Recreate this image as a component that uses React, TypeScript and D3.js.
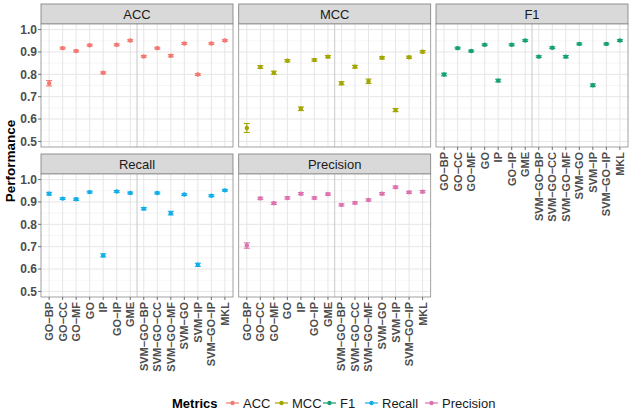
import React from "react";
import * as d3 from "d3";

const methods = ["GO-BP", "GO-CC", "GO-MF", "GO", "IP", "GO-IP", "GME", "SVM-GO-BP", "SVM-GO-CC", "SVM-GO-MF", "SVM-GO", "SVM-IP", "SVM-GO-IP", "MKL"];
const metricNames = ["ACC", "MCC", "F1", "Recall", "Precision"];
const metricColors = ["#F27A72", "#A3A500", "#17A077", "#12AEE8", "#DC72AE"];

const accVals = [0.760, 0.917, 0.904, 0.930, 0.807, 0.932, 0.951, 0.880, 0.917, 0.883, 0.938, 0.799, 0.938, 0.951];
const accErr = [0.012, 0.004, 0.004, 0.004, 0.004, 0.004, 0.004, 0.004, 0.004, 0.005, 0.004, 0.004, 0.004, 0.004];
const mccVals = [0.560, 0.833, 0.807, 0.861, 0.646, 0.864, 0.879, 0.760, 0.834, 0.769, 0.874, 0.640, 0.876, 0.901];
const mccErr = [0.020, 0.006, 0.007, 0.005, 0.008, 0.005, 0.005, 0.007, 0.006, 0.010, 0.005, 0.007, 0.005, 0.005];
const f1Vals = [0.799, 0.917, 0.904, 0.932, 0.772, 0.932, 0.951, 0.879, 0.919, 0.879, 0.936, 0.751, 0.936, 0.951];
const f1Err = [0.006, 0.004, 0.004, 0.004, 0.006, 0.004, 0.004, 0.004, 0.004, 0.005, 0.004, 0.006, 0.004, 0.004];
const recallVals = [0.937, 0.915, 0.912, 0.944, 0.661, 0.947, 0.940, 0.870, 0.940, 0.850, 0.933, 0.619, 0.928, 0.952];
const recallErr = [0.006, 0.004, 0.005, 0.004, 0.007, 0.004, 0.004, 0.005, 0.004, 0.008, 0.004, 0.007, 0.004, 0.004];
const precisionVals = [0.705, 0.916, 0.894, 0.918, 0.937, 0.918, 0.935, 0.887, 0.896, 0.909, 0.937, 0.966, 0.943, 0.946];
const precisionErr = [0.012, 0.005, 0.005, 0.005, 0.005, 0.005, 0.005, 0.005, 0.005, 0.005, 0.005, 0.005, 0.005, 0.005];

const yTicks = [0.5, 0.6, 0.7, 0.8, 0.9, 1.0];
const yMinor = [0.55, 0.65, 0.75, 0.85, 0.95];

const series = [
  { vals: accVals, err: accErr },
  { vals: mccVals, err: mccErr },
  { vals: f1Vals, err: f1Err },
  { vals: recallVals, err: recallErr },
  { vals: precisionVals, err: precisionErr },
];

const W = 633;
const H = 412;
const colX = [41, 238.7, 436];
const panelW = 192;
const rows = [
  { stripTop: 4, top: 24, bottom: 147 },
  { stripTop: 154, top: 174, bottom: 297 },
];
const font = "'Liberation Sans', Arial, Helvetica, sans-serif";
const label = (s: string) => s.replace(/-/g, "\u2212");

const Panel = ({ idx }: { idx: number }) => {
  const col = idx % 3;
  const row = Math.floor(idx / 3);
  const r = rows[row];
  const x0 = colX[col];
  const x = d3.scalePoint<string>().domain(methods).range([x0, x0 + panelW]).padding(0.6);
  const y = d3.scaleLinear().domain([0.475, 1.025]).range([r.bottom, r.top]);
  const color = metricColors[idx];
  const s = series[idx];
  const showX = idx >= 2;
  const showY = col === 0;
  const mid = (x(methods[6])! + x(methods[7])!) / 2;
  return (
    <g>
      <rect x={x0} y={r.stripTop} width={panelW} height={r.top - r.stripTop} fill="#D9D9D9" stroke="#7a7a7a" strokeWidth={0.8} />
      <text x={x0 + panelW / 2} y={(r.stripTop + r.top) / 2} dy="0.36em" textAnchor="middle" fontSize={13} fill="#1a1a1a" fontFamily={font}>
        {metricNames[idx]}
      </text>
      <rect x={x0} y={r.top} width={panelW} height={r.bottom - r.top} fill="#fff" />
      {yMinor.map((t) => (
        <line key={"mn" + t} x1={x0} x2={x0 + panelW} y1={y(t)} y2={y(t)} stroke="#F0F0F0" strokeWidth={0.6} />
      ))}
      {yTicks.map((t) => (
        <line key={"mj" + t} x1={x0} x2={x0 + panelW} y1={y(t)} y2={y(t)} stroke="#E6E6E6" strokeWidth={1} />
      ))}
      {methods.map((m) => (
        <line key={"gx" + m} x1={x(m)} x2={x(m)} y1={r.top} y2={r.bottom} stroke="#E6E6E6" strokeWidth={1} />
      ))}
      <line x1={mid} x2={mid} y1={r.top} y2={r.bottom} stroke="#C8C8C8" strokeWidth={1} />
      {methods.map((m, i) => {
        const cx = x(m)!;
        const lo = y(s.vals[i] - s.err[i]);
        const hi = y(s.vals[i] + s.err[i]);
        return (
          <g key={"pt" + m} stroke={color} fill={color}>
            <line x1={cx} x2={cx} y1={lo} y2={hi} strokeWidth={1.1} />
            <line x1={cx - 3} x2={cx + 3} y1={lo} y2={lo} strokeWidth={1.1} />
            <line x1={cx - 3} x2={cx + 3} y1={hi} y2={hi} strokeWidth={1.1} />
            <circle cx={cx} cy={y(s.vals[i])} r={2.2} stroke="none" />
          </g>
        );
      })}
      <rect x={x0} y={r.top} width={panelW} height={r.bottom - r.top} fill="none" stroke="#8a8a8a" strokeWidth={0.8} />
      {showY &&
        yTicks.map((t) => (
          <g key={"yt" + t}>
            <line x1={x0 - 3} x2={x0} y1={y(t)} y2={y(t)} stroke="#4d4d4d" strokeWidth={0.8} />
            <text x={x0 - 4} y={y(t)} dy="0.36em" textAnchor="end" fontSize={12} fontWeight="bold" fill="#4d4d4d" fontFamily={font}>
              {t.toFixed(1)}
            </text>
          </g>
        ))}
      {showX &&
        methods.map((m) => (
          <g key={"xt" + m}>
            <line x1={x(m)} x2={x(m)} y1={r.bottom} y2={r.bottom + 3} stroke="#4d4d4d" strokeWidth={0.8} />
            <text
              transform={`translate(${x(m)},${r.bottom + 5}) rotate(-90)`}
              dy="0.36em"
              textAnchor="end"
              fontSize={11}
              fontWeight="bold"
              fill="#4d4d4d"
              fontFamily={font}
            >
              {label(m)}
            </text>
          </g>
        ))}
    </g>
  );
};

// legend key start positions and text start positions
const legendKeyX = [226, 275, 323, 365, 425];
const legendTextX = [243, 292, 340, 382, 442];

const App = () => {
  const ly = 403;
  return (
    <svg width={W} height={H} style={{ position: "absolute", left: 0, top: 0, background: "#fff" }}>
      <rect width={W} height={H} fill="#fff" />
      {metricNames.map((m, i) => (
        <Panel key={m} idx={i} />
      ))}
      <text transform={`translate(10,161) rotate(-90)`} dy="0.36em" textAnchor="middle" fontSize={13.5} fontWeight="bold" fill="#000" fontFamily={font}>
        Performance
      </text>
      <text x={172} y={ly} dy="0.36em" fontSize={13} fontWeight="bold" fill="#000" fontFamily={font}>
        Metrics
      </text>
      {metricNames.map((m, i) => (
        <g key={"lg" + m}>
          <line x1={legendKeyX[i]} x2={legendKeyX[i] + 13} y1={ly} y2={ly} stroke={metricColors[i]} strokeWidth={1.2} />
          <circle cx={legendKeyX[i] + 6.5} cy={ly} r={2.2} fill={metricColors[i]} />
          <text x={legendTextX[i]} y={ly} dy="0.36em" fontSize={13} fill="#1a1a1a" fontFamily={font}>
            {m}
          </text>
        </g>
      ))}
    </svg>
  );
};

export default App;
